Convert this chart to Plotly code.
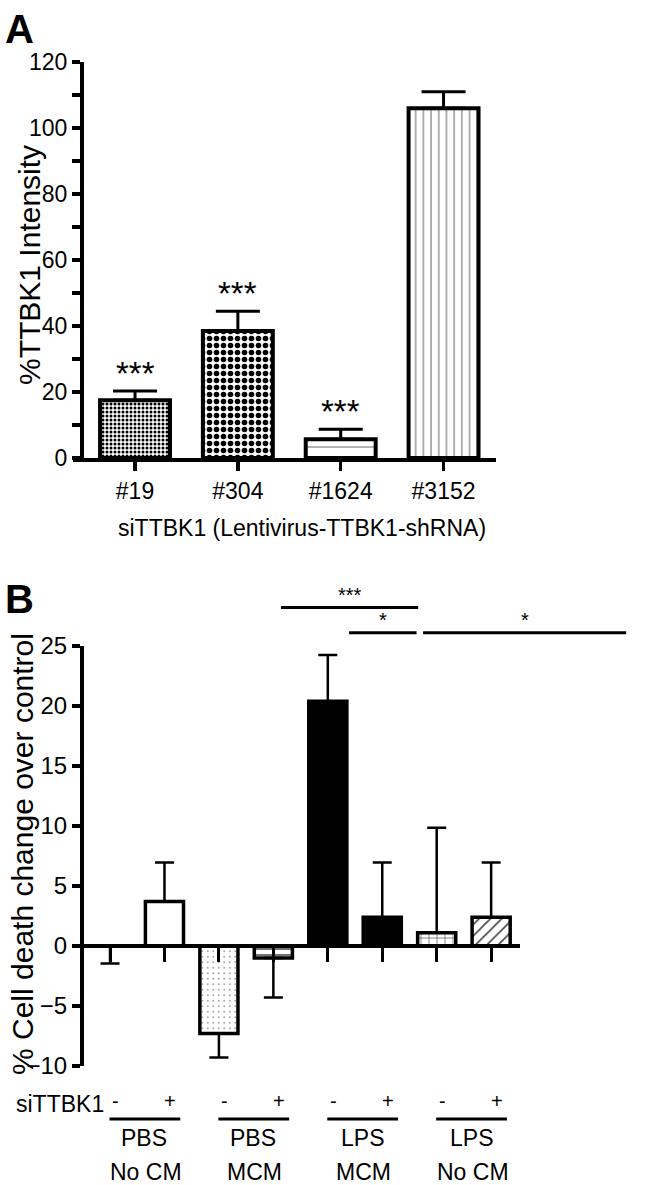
import plotly.graph_objects as go

# ---------------- data ----------------
a_cats = ["#19", "#304", "#1624", "#3152"]
a_vals = [17.5, 38.5, 5.7, 106.0]
a_err = [2.8, 6.0, 3.0, 5.0]
a_sig = ["***", "***", "***", ""]

b_cats = ["PBS NoCM -", "PBS NoCM +", "PBS MCM -", "PBS MCM +",
          "LPS MCM -", "LPS MCM +", "LPS NoCM -", "LPS NoCM +"]
b_vals = [0.0, 3.7, -7.3, -1.0, 20.4, 2.4, 1.1, 2.4]
b_err = [1.45, 3.25, 2.0, 3.3, 3.85, 4.55, 8.75, 4.55]
b_sign = ["-", "+", "-", "+", "-", "+", "-", "+"]
b_group_top = ["PBS", "PBS", "LPS", "LPS"]
b_group_bottom = ["No CM", "MCM", "MCM", "No CM"]

W, H = 664, 1185
FONT = "Liberation Sans, Arial, sans-serif"

def fx(px):
    return px / W

def fy(py):
    return 1 - py / H

# domains (pixel based)
ax_dom = [fx(73), fx(496)]
ay_dom = [fy(458), fy(62)]
bx_dom = [fx(73), fx(520)]
by_dom = [fy(1066), fy(646)]
ax_rng = [-0.603, 3.51]
bx_rng = [-0.68, 7.53]
by_rng = [-10, 25]

fig = go.Figure()

# Panel A bars
fig.add_trace(go.Bar(
    x=a_cats, y=a_vals, width=0.68, xaxis="x", yaxis="y",
    marker=dict(
        color="white",
        line=dict(color="black", width=4),
        pattern=dict(shape=[".", ".", "-", "|"],
                     size=[4, 7, 14, 7.7],
                     solidity=[0.45, 0.5, 0.08, 0.12],
                     fgcolor=["black", "black", "#777", "#555"],
                     fgopacity=1,
                     bgcolor="white", fillmode="overlay"),
    ),
    error_y=dict(type="data", array=a_err, arrayminus=[0] * 4,
                 color="black", thickness=3, width=22),
    showlegend=False, hoverinfo="skip",
))

# Panel B bars
b_err_plus = [e if v > 0 else 0 for v, e in zip(b_vals, b_err)]
b_err_minus = [e if v <= 0 else 0 for v, e in zip(b_vals, b_err)]
fig.add_trace(go.Bar(
    x=b_cats, y=b_vals, width=0.7, xaxis="x2", yaxis="y2",
    marker=dict(
        color=["white", "white", "white", "white", "black", "black", "white", "white"],
        line=dict(color="black", width=3.5),
        pattern=dict(shape=["", "", ".", "-", "", "", "+", "/"],
                     size=[8, 8, 5.5, 6, 8, 8, 8, 8],
                     solidity=[0.1, 0.1, 0.06, 0.25, 0.1, 0.1, 0.15, 0.2],
                     fgcolor="black", fgopacity=1,
                     bgcolor="white", fillmode="overlay"),
    ),
    error_y=dict(type="data", array=b_err_plus, arrayminus=b_err_minus,
                 color="black", thickness=2.5, width=9.5),
    showlegend=False, hoverinfo="skip",
))

axis_common = dict(showline=True, linecolor="black", showgrid=False,
                   zeroline=False, ticks="outside", tickcolor="black",
                   automargin=False, fixedrange=True)

fig.update_layout(
    template="none",
    width=W, height=H,
    margin=dict(l=0, r=0, t=0, b=0, pad=0),
    paper_bgcolor="white", plot_bgcolor="white",
    xaxis=dict(domain=ax_dom, anchor="y", type="category", range=ax_rng,
               linewidth=4, ticklen=9, tickwidth=3.5,
               tickfont=dict(family=FONT, size=23, color="black"),
               **axis_common),
    yaxis=dict(domain=ay_dom, anchor="free", position=fx(82), range=[0, 120],
               dtick=20, linewidth=4, ticklen=8, tickwidth=3.5,
               minor=dict(dtick=10, ticks="outside", ticklen=8, tickwidth=3.5, tickcolor="black"),
               tickfont=dict(family=FONT, size=23, color="black"),
               **axis_common),
    xaxis2=dict(domain=bx_dom, anchor="free", position=fy(946), type="category",
                range=bx_rng, linewidth=4, ticklen=14, tickwidth=3,
                showticklabels=False, **axis_common),
    yaxis2=dict(domain=by_dom, anchor="free", position=fx(82), range=by_rng,
                dtick=5, linewidth=4, ticklen=8, tickwidth=3.5,
                tickfont=dict(family=FONT, size=24, color="black"),
                **axis_common),
)

ann = []
# panel letters
ann.append(dict(text="<b>A</b>", x=fx(3), y=fy(29), xref="paper", yref="paper",
                xanchor="left", yanchor="middle", showarrow=False,
                font=dict(family=FONT, size=40, color="black")))
ann.append(dict(text="<b>B</b>", x=fx(3), y=fy(599), xref="paper", yref="paper",
                xanchor="left", yanchor="middle", showarrow=False,
                font=dict(family=FONT, size=40, color="black")))
# y titles
ann.append(dict(text="%TTBK1 Intensity", x=fx(30), y=fy(265), xref="paper", yref="paper",
                textangle=-90, showarrow=False, xanchor="center", yanchor="middle",
                font=dict(family=FONT, size=30, color="black")))
ann.append(dict(text="% Cell death change over control", x=fx(22), y=fy(854),
                xref="paper", yref="paper", textangle=-90, showarrow=False,
                xanchor="center", yanchor="middle",
                font=dict(family=FONT, size=30, color="black")))
# x title A
ann.append(dict(text="siTTBK1 (Lentivirus-TTBK1-shRNA)", x=fx(302), y=fy(528),
                xref="paper", yref="paper", showarrow=False, xanchor="center",
                yanchor="middle", font=dict(family=FONT, size=23, color="black")))
# significance A
for c, v, e, s in zip(a_cats, a_vals, a_err, a_sig):
    if s:
        ann.append(dict(text=s, x=c, y=v + e, xref="x", yref="y", showarrow=False,
                        xanchor="center", yanchor="bottom", yshift=-3,
                        font=dict(family=FONT, size=33, color="black")))

# panel B lower labels
ann.append(dict(text="siTTBK1", x=fx(14), y=fy(1104), xref="paper", yref="paper",
                showarrow=False, xanchor="left", yanchor="middle",
                font=dict(family=FONT, size=23, color="black")))
for i, s in enumerate(b_sign):
    ann.append(dict(text=s, x=i + 0.1, y=fy(1101), xref="x2", yref="paper",
                    showarrow=False, xanchor="center", yanchor="middle",
                    font=dict(family=FONT, size=20, color="black")))
for g, (t1, t2) in enumerate(zip(b_group_top, b_group_bottom)):
    ann.append(dict(text=t1, x=2 * g + 0.63, y=fy(1138), xref="x2", yref="paper",
                    showarrow=False, xanchor="center", yanchor="middle",
                    font=dict(family=FONT, size=23, color="black")))
    ann.append(dict(text=t2, x=2 * g + 0.66, y=fy(1172), xref="x2", yref="paper",
                    showarrow=False, xanchor="center", yanchor="middle",
                    font=dict(family=FONT, size=23, color="black")))


def bx(i):
    return bx_dom[0] + (i - bx_rng[0]) / (bx_rng[1] - bx_rng[0]) * (bx_dom[1] - bx_dom[0])


def by(v):
    return by_dom[0] + (v - by_rng[0]) / (by_rng[1] - by_rng[0]) * (by_dom[1] - by_dom[0])


shapes = []
for g in range(4):
    shapes.append(dict(type="line", xref="paper", yref="paper",
                       x0=bx(2 * g - 0.01), x1=bx(2 * g + 1.29), y0=fy(1119), y1=fy(1119),
                       line=dict(color="black", width=3)))

# significance brackets panel B
sig_lines = [(3.14, 5.66, 28.2, "***"), (4.39, 5.63, 26.1, "*"), (5.75, 9.48, 26.1, "*")]
for x0, x1, yv, s in sig_lines:
    shapes.append(dict(type="line", xref="paper", yref="paper",
                       x0=bx(x0), x1=bx(x1), y0=by(yv), y1=by(yv),
                       line=dict(color="black", width=3)))
    ann.append(dict(text=s, x=(bx(x0) + bx(x1)) / 2, y=by(yv), xref="paper", yref="paper",
                    showarrow=False, xanchor="center", yanchor="bottom", yshift=0,
                    font=dict(family=FONT, size=20, color="black")))

fig.update_layout(annotations=ann, shapes=shapes)
fig.write_html(
    "out.html",
    config={"displayModeBar": False, "staticPlot": True},
    post_script="document.body.style.margin='0';document.body.style.overflow='hidden';"
                "document.documentElement.style.overflow='hidden';",
)
